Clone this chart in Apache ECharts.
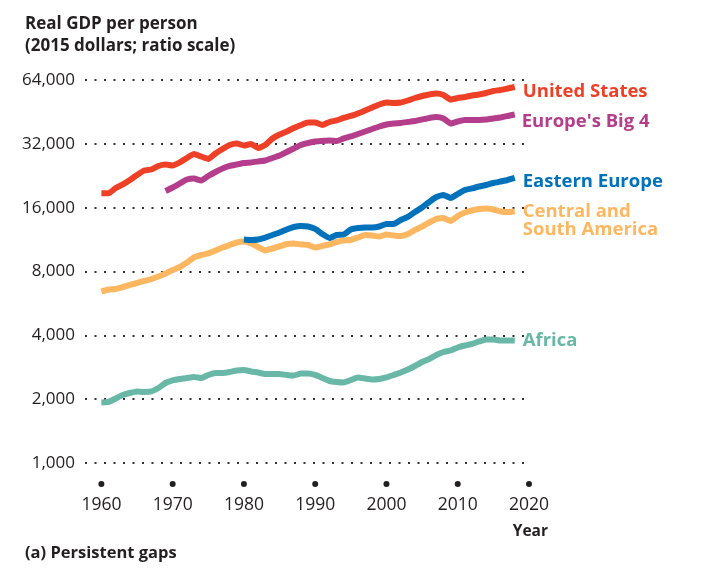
<!DOCTYPE html>
<html>
<head>
<meta charset="utf-8">
<script src="https://cdn.jsdelivr.net/npm/echarts@6/dist/echarts.min.js"></script>
<style>
  html, body { margin: 0; padding: 0; background: #fff; }
  #chartBox { width: 712px; height: 576px; }
</style>
</head>
<body>
<div id="chartBox"></div>
<script>
// x tick labels and y tick values (ratio scale, doubling)
const yearTicks = [1960, 1970, 1980, 1990, 2000, 2010, 2020];
const yTicks = [1000, 2000, 4000, 8000, 16000, 32000, 64000];

const usYears = [];
for (let y = 1960; y <= 2018; y++) usYears.push(y);
const big4Years = usYears.filter(y => y >= 1969);
const eeYears = usYears.filter(y => y >= 1980);

const usValues = [18700, 18700, 19800, 20580, 21610, 22820, 23960, 24220, 25160, 25570,
  25300, 26140, 27440, 28660, 27890, 27150, 28820, 30250, 31600, 32110,
  31420, 31950, 30590, 31600, 33920, 35420, 36590, 38000, 39260, 40340,
  40340, 39260, 40560, 41240, 42380, 43300, 44500, 45980, 47500, 49070,
  50140, 49860, 50140, 51230, 52630, 53810, 54690, 55290, 54400, 51780,
  52630, 53220, 54100, 54690, 55590, 56820, 57420, 58380, 59330];

const big4Values = [19180,
  19920, 20800, 21720, 21960, 21490, 22570, 23570, 24480, 25160, 25570,
  25990, 26140, 26420, 26710, 27440, 28190, 29280, 30430, 31600, 32290,
  32830, 33010, 33200, 33010, 33920, 34660, 35610, 36590, 37600, 38630,
  39480, 39910, 40130, 40560, 41010, 41680, 42380, 42840, 42140, 39910,
  40790, 41470, 41470, 41470, 41680, 42140, 42610, 43300, 44020];

const eeValues = [11330, 11270, 11330, 11570, 11890, 12220, 12630, 12970, 13110, 13040,
  12700, 12020, 11510, 11890, 11960, 12630, 12830, 12900, 12900, 13040,
  13400, 13400, 14000, 14460, 15270, 16030, 17020, 17970, 18370, 17780,
  18560, 19380, 19710, 20140, 20470, 20920, 21260, 21610, 22090];

const csaValues = [6440, 6580, 6620, 6760, 6910, 7060, 7220, 7370, 7580, 7830,
  8130, 8400, 8820, 9320, 9570, 9730, 10050, 10380, 10670, 10960,
  11080, 10840, 10440, 10050, 10270, 10500, 10790, 10840, 10730, 10670,
  10380, 10560, 10730, 11020, 11200, 11270, 11570, 11890, 11830, 11700,
  11960, 11830, 11760, 12020, 12560, 13040, 13620, 14150, 14300, 13840,
  14620, 15180, 15520, 15770, 15860, 15690, 15350, 15270, 15350];

const africaValues = [1929, 1940, 2015, 2092, 2139, 2174, 2162, 2174, 2258, 2384,
  2450, 2490, 2517, 2544, 2517, 2601, 2657, 2657, 2687, 2731,
  2746, 2701, 2672, 2629, 2629, 2629, 2601, 2586, 2643, 2643,
  2601, 2517, 2436, 2410, 2397, 2463, 2531, 2503, 2476, 2490,
  2531, 2601, 2672, 2760, 2867, 2994, 3093, 3231, 3338, 3393,
  3505, 3582, 3641, 3742, 3824, 3824, 3782, 3782, 3782];

const FONT = '"Open Sans", Lato, sans-serif';
const INK = '#231f20';

// ratio scale: plot log2(value / 1000) on a plain value axis
function toPairs(years, values) {
  return years.map((yr, i) => [yr, Math.log2(values[i] / 1000)]);
}

function makeSeries(name, label, color, years, values, offset) {
  return {
    name: name,
    type: 'line',
    symbol: 'none',
    smooth: 0.15,
    lineStyle: { color: color, width: 6, join: 'round' },
    endLabel: {
      show: true,
      formatter: label,
      color: color,
      fontFamily: FONT,
      fontWeight: 'bold',
      fontSize: 18.5,
      lineHeight: 17.5,
      distance: 8,
      offset: offset
    },
    data: toPairs(years, values)
  };
}

const chart = echarts.init(document.getElementById('chartBox'));

const option = {
  animation: false,
  title: {
    text: 'Real GDP per person\n(2015 dollars; ratio scale)',
    left: 20,
    top: 8,
    textStyle: { fontFamily: FONT, fontSize: 17, fontWeight: 'bold', color: INK, lineHeight: 22 }
  },
  grid: { left: 85, right: 183, top: 80, bottom: 113 },
  xAxis: {
    type: 'value',
    min: 1957.7,
    max: 2020,
    axisLine: { show: false },
    axisTick: { show: false },
    splitLine: { show: false },
    axisLabel: {
      customValues: yearTicks,
      margin: 14,
      formatter: v => '{d|}\n{y|' + v + '}',
      rich: {
        d: { width: 6, height: 6, borderRadius: 3, backgroundColor: INK, lineHeight: 14 },
        y: { fontFamily: FONT, fontSize: 17.5, color: INK, lineHeight: 28 }
      }
    }
  },
  yAxis: {
    type: 'value',
    min: 0,
    max: yTicks.length - 1,
    interval: 1,
    axisLine: { show: false },
    axisTick: { show: false },
    axisLabel: {
      margin: 10,
      fontFamily: FONT,
      fontSize: 17,
      color: INK,
      formatter: v => yTicks[v].toLocaleString('en-US')
    },
    splitLine: {
      show: true,
      lineStyle: { color: '#333', width: 2, type: [2, 7.5] }
    }
  },
  graphic: [
    {
      type: 'text',
      right: 164, top: 524,
      style: { text: 'Year', fontFamily: FONT, fontSize: 15.5, fontWeight: 'bold', fill: INK }
    },
    {
      type: 'text',
      left: 25, top: 545,
      style: { text: '(a) Persistent gaps', fontFamily: FONT, fontSize: 16.5, fontWeight: 'bold', fill: INK }
    }
  ],
  series: [
    makeSeries('Central and South America', 'Central and\nSouth America', '#fdb761', usYears, csaValues, [0, 9]),
    makeSeries('Africa', 'Africa', '#69b8a7', usYears, africaValues, [0, 0]),
    makeSeries('Eastern Europe', 'Eastern Europe', '#0072bc', eeYears, eeValues, [0, 4]),
    makeSeries("Europe's Big 4", "Europe's Big 4", '#b43e8c', big4Years, big4Values, [-1, 7]),
    makeSeries('United States', 'United States', '#ee4027', usYears, usValues, [0, 5])
  ]
};

chart.setOption(option);
</script>
</body>
</html>
